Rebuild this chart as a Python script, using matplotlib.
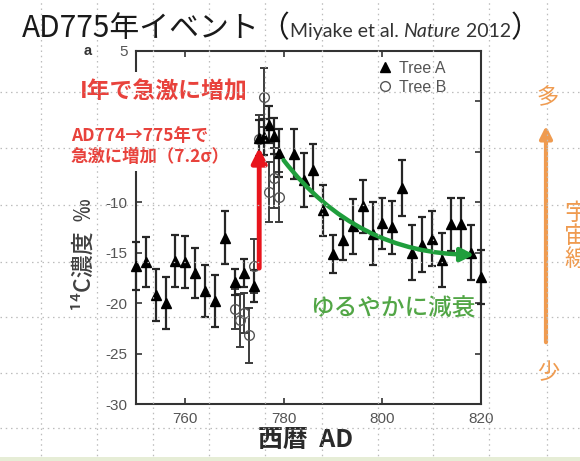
import matplotlib
matplotlib.use('Agg')
import matplotlib.pyplot as plt
from matplotlib.patches import FancyArrowPatch, Rectangle
from matplotlib.lines import Line2D

plt.rcParams['font.family'] = ['Noto Sans CJK JP', 'DejaVu Sans']

# Tree A: biennial, annual around the event
yearA = [750, 752, 754, 756, 758, 760, 762, 764, 766, 768, 770, 772, 774,
         775, 776, 777, 778, 779,
         782, 784, 786, 788, 790, 792, 794, 796, 798, 800,
         802, 804, 806, 808, 810, 812, 814, 816, 818, 820]
valA = [-16.3, -15.9, -19.2, -20.0, -15.8, -15.9, -17.0, -18.8, -19.8, -13.5, -17.9, -17.0, -18.3,
        -3.6, -3.5, -2.3, -3.4, -5.1,
        -5.2, -7.8, -6.8, -10.8, -15.1, -13.7, -12.4, -10.4, -13.1, -12.1,
        -12.5, -8.6, -15.0, -14.2, -13.6, -15.7, -12.2, -12.2, -15.0, -17.4]
errA = [2.4, 2.5, 2.6, 2.6, 2.6, 2.6, 2.5, 2.6, 2.6, 2.6, 1.3, 1.4, 1.6,
        1.8, 1.8, 1.8, 1.8, 2.4,
        2.5, 2.7, 2.6, 2.55, 1.9, 2.0, 2.75, 2.65, 3.1, 2.5,
        2.6, 2.8, 2.7, 2.7, 2.7, 2.65, 2.65, 2.65, 2.7, 2.7]

# Tree B: annual
yearB = [770, 771, 772, 773, 774, 775, 776, 777, 778, 779]
valB = [-20.6, -21.7, -21.0, -23.2, -16.3, -3.7, 0.4, -9.0, -7.6, -9.5]
errB = [2.0, 2.6, 2.0, 2.7, 2.7, 2.4, 2.9, 3.0, 3.0, 2.5]

xticks = [760, 780, 800, 820]
yticks = [-30, -25, -20, -15, -10, -5, 0, 5]
# 0 and -5 sit under the red notes, so no label there
ytick_labels = ['-30', '-25', '-20', '-15', '-10', '', '', '5']

W, H = 580, 461


def fx(px):
    return px / W


def fy(py):
    return 1 - py / H


fig = plt.figure(figsize=(5.8, 4.61), dpi=100)
fig.patch.set_facecolor('white')

ax = fig.add_axes([fx(136), fy(404), fx(481) - fx(136), fy(51) - fy(404)])
ax.set_facecolor('none')

ax.errorbar(yearB, valB, yerr=errB, fmt='none', ecolor='#3c3c3c', elinewidth=1.4,
            capsize=3, capthick=1.4, zorder=2, clip_on=False)
ax.errorbar(yearA, valA, yerr=errA, fmt='none', ecolor='#262626', elinewidth=1.6,
            capsize=3, capthick=1.6, zorder=3, clip_on=False)
hB, = ax.plot(yearB, valB, 'o', ms=7, mfc='none', mec='#555555', mew=1.0,
              ls='none', label='Tree B', zorder=4, clip_on=False)
hA, = ax.plot(yearA, valA, '^', ms=7.5, color='black', ls='none',
              label='Tree A', zorder=5, clip_on=False)

ax.set_xlim(750, 820)
ax.set_ylim(-30, 5)
ax.set_xticks(xticks)
ax.set_yticks(yticks)
ax.set_xticklabels([str(v) for v in xticks], family=['Liberation Sans'])
ax.set_yticklabels(ytick_labels, family=['Liberation Sans'])
ax.tick_params(direction='in', top=True, right=True, length=4, width=1.2,
               labelsize=11, labelcolor='#555555', color='#333333', pad=6)
for s in ax.spines.values():
    s.set_color('#333333')
    s.set_linewidth(1.5)

leg = ax.legend(handles=[hA, hB], loc='upper left', bbox_to_anchor=(0.685, 0.99),
                frameon=False, handlelength=0.8, handletextpad=0.5,
                labelspacing=0.25, borderaxespad=0,
                prop={'family': ['Liberation Sans'], 'size': 11.5})
for t in leg.get_texts():
    t.set_color('#555555')

# red arrow: sudden jump 774 -> 775
ax.add_patch(FancyArrowPatch((775, -16.8), (775, -4.3), arrowstyle='-|>',
                             mutation_scale=22, lw=3.5, color='#e8141c', zorder=6))
# green arrow: slow decay
ax.add_patch(FancyArrowPatch((779.6, -5.6), (819.2, -15.2), arrowstyle='-|>',
                             connectionstyle='arc3,rad=0.25', mutation_scale=20,
                             lw=3.2, color='#1f9e3c', zorder=6))

# white patch over the left spine behind the red notes
fig.add_artist(Rectangle((fx(64), fy(171)), fx(249) - fx(64), fy(72) - fy(171),
                         transform=fig.transFigure, facecolor='white',
                         edgecolor='none', zorder=1))

fig.text(fx(88), fy(51), 'a', fontsize=10.5, fontweight='bold', color='#333333',
         ha='center', va='center', family=['Liberation Sans'])

red = '#e8423c'
fig.text(fx(80), fy(92), 'I年で急激に増加', fontsize=16.5, color=red,
         ha='left', va='center', fontweight='bold', zorder=2)
fig.text(fx(71), fy(136), 'AD774→775年で', fontsize=12.5, color=red,
         ha='left', va='center', fontweight='bold', zorder=2)
fig.text(fx(71), fy(157), '急激に増加（7.2σ）', fontsize=12.5, color=red,
         ha='left', va='center', fontweight='bold', zorder=2)

fig.text(fx(393), fy(309), 'ゆるやかに減衰', fontsize=17, color='#52a646',
         ha='center', va='center', fontweight='medium', zorder=2)

fig.text(fx(84), fy(255), '¹⁴C濃度  ‰', rotation=90, fontsize=16.5, color='#404040',
         ha='center', va='center', fontweight='medium', zorder=2)
fig.text(fx(306), fy(440), '西暦  AD', fontsize=18, color='#2a2a2a',
         ha='center', va='center', fontweight='bold', zorder=2)

orange = '#ef9b50'
fig.text(fx(548), fy(98), '多', fontsize=16, color=orange, ha='center', va='center')
fig.text(fx(548), fy(373), '少', fontsize=16, color=orange, ha='center', va='center')
fig.text(fx(576), fy(236), '宇\n宙\n線', fontsize=17, color=orange, ha='center',
         va='center', linespacing=1.0)
fig.add_artist(FancyArrowPatch((fx(546), fy(345)), (fx(546), fy(123)),
                               transform=fig.transFigure, arrowstyle='-|>',
                               mutation_scale=18, lw=3, color=orange, zorder=2))

# title, pieces placed one after another on a common baseline
base = fy(37)
fig.canvas.draw()
r = fig.canvas.get_renderer()
pieces = [('AD775年イベント', 21.5, 'normal', None, '#1a1a1a'),
          ('（', 21.5, 'normal', None, '#1a1a1a'),
          ('Miyake et al. ', 14, 'normal', ['Lato', 'DejaVu Sans'], '#333333'),
          ('Nature', 14, 'italic', ['Lato', 'DejaVu Sans'], '#333333'),
          (' 2012', 14, 'normal', ['Lato', 'DejaVu Sans'], '#333333'),
          ('）', 21.5, 'normal', None, '#1a1a1a')]
x = 22
for txt, size, st, fam, col in pieces:
    kw = {'family': fam} if fam else {}
    t = fig.text(fx(x), base, txt, fontsize=size, color=col, ha='left',
                 va='baseline', style=st, **kw)
    x = t.get_window_extent(r).x1

# slide guide grid
for gx in [41, 97, 153, 209, 265, 322, 378, 433, 489, 547]:
    fig.add_artist(Line2D([fx(gx), fx(gx)], [0, 1], transform=fig.transFigure,
                          color='#bcbcbc', lw=0.9, ls=(0, (1.2, 3)), zorder=3))
for gy in [92, 148, 205, 262, 317, 373, 428]:
    fig.add_artist(Line2D([0, 1], [fy(gy), fy(gy)], transform=fig.transFigure,
                          color='#bcbcbc', lw=0.9, ls=(0, (1.2, 3)), zorder=3))

fig.add_artist(Rectangle((0, 0), 1, fy(457), transform=fig.transFigure,
                         facecolor='#e6edd6', edgecolor='none', zorder=3))

fig.savefig('out.png', dpi=100)
